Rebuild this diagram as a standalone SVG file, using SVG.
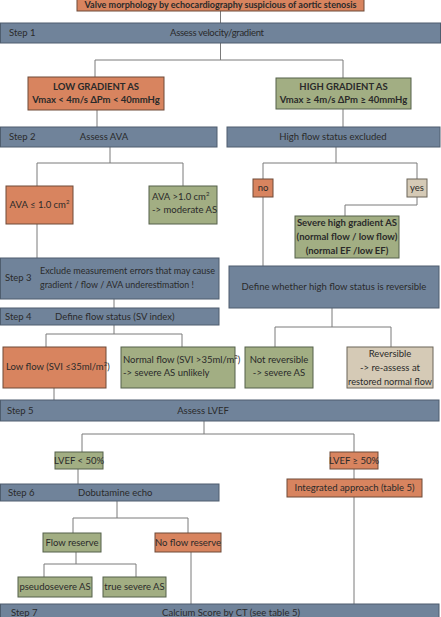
<svg xmlns="http://www.w3.org/2000/svg" width="441" height="617" viewBox="0 0 441 617">
<style>
.bar{fill:#70839A;stroke:#4E5D6E;stroke-width:1}
.or{fill:#D8845F;stroke:#6E4A38;stroke-width:1}
.gr{fill:#A2AE83;stroke:#55604A;stroke-width:1}
.be{fill:#D5CAB6;stroke:#6B6558;stroke-width:1}
text{font-family:Lato,"Liberation Sans",sans-serif;font-size:9.5px;fill:#2A2A2A}
.m{text-anchor:middle}
.b{font-weight:bold}
.conn path{fill:none;stroke:#7A7A7A;stroke-width:1}
.sup{font-size:6px}
</style>
<rect width="441" height="617" fill="#FFFFFF"/>
<g class="conn">
<path d="M220.5 11V23"/>
<path d="M220.5 43V60M95 78V60H343V78"/>
<path d="M97 110V127"/>
<path d="M343 109V127"/>
<path d="M110 147V163M37 186V163H183V186"/>
<path d="M336 147V163M263 179V163H417V179"/>
<path d="M417 197V205H345V216"/>
<path d="M263 197V266"/>
<path d="M37 224V258"/>
<path d="M114 299V308"/>
<path d="M114 325V334M46 347V334H182V347"/>
<path d="M332 308V327M275 347V327H391V347"/>
<path d="M54 388V400"/>
<path d="M204 421V434M82 452V434H354V452"/>
<path d="M78 469V484"/>
<path d="M354 469V479"/>
<path d="M354 497V604"/>
<path d="M117 501V518M73 533V518H188V533"/>
<path d="M76 552V564M44 577V564H136V577"/>
<path d="M191 552V604"/>
</g>
<g id="start"><rect class="or" x="77" y="-5" width="287" height="16"/><text class="m b" x="220.5" y="8" textLength="272" lengthAdjust="spacingAndGlyphs">Valve morphology by echocardiography suspicious of aortic stenosis</text></g>
<g id="step1"><rect class="bar" x="0.5" y="23" width="440" height="20"/><text x="9" y="36">Step 1</text><text class="m" x="217" y="36" textLength="94">Assess velocity/gradient</text></g>
<g id="low"><rect class="or" x="28" y="77" width="136" height="33"/><text class="m b" x="96" y="90">LOW GRADIENT AS</text><text class="m b" x="96" y="103">Vmax &lt; 4m/s  ΔPm &lt; 40mmHg</text></g>
<g id="high"><rect class="gr" x="276" y="78" width="135" height="31"/><text class="m b" x="343.5" y="90">HIGH GRADIENT AS</text><text class="m b" x="343.5" y="103">Vmax ≥ 4m/s  ΔPm ≥ 40mmHg</text></g>
<g id="step2"><rect class="bar" x="0.5" y="127" width="216.5" height="20"/><text x="9" y="140">Step 2</text><text class="m" x="104" y="140">Assess AVA</text></g>
<g id="highflow"><rect class="bar" x="227" y="127" width="213" height="20"/><text class="m" x="333" y="140">High flow status excluded</text></g>
<g id="avasmall"><rect class="or" x="6" y="186" width="67" height="38"/><text class="m" x="39.5" y="208">AVA ≤ 1.0 cm<tspan class="sup" dy="-4">2</tspan></text></g>
<g id="avalarge"><rect class="gr" x="149" y="186" width="68" height="38"/><text x="152" y="200">AVA &gt;1.0 cm<tspan class="sup" dy="-4">2</tspan></text><text x="152" y="213">-&gt; moderate AS</text></g>
<g id="no"><rect class="or" x="253" y="179" width="20" height="18"/><text class="m" x="263" y="191">no</text></g>
<g id="yes"><rect class="be" x="407" y="179" width="20" height="18"/><text class="m" x="417" y="191">yes</text></g>
<g id="severehigh"><rect class="gr" x="295" y="216" width="104" height="42"/><text class="m b" x="347" y="226">Severe high gradient AS</text><text class="m b" x="347" y="240">(normal flow / low flow)</text><text class="m b" x="347" y="254">(normal EF /low EF)</text></g>
<g id="define"><rect class="bar" x="229" y="266" width="210" height="42"/><text class="m" x="334" y="290">Define whether high flow status is reversible</text></g>
<g id="step3"><rect class="bar" x="0.5" y="258" width="218.5" height="41"/><text x="5" y="281">Step 3</text><text x="40" y="274" textLength="175" lengthAdjust="spacingAndGlyphs">Exclude measurement errors that may cause</text><text x="40" y="288" textLength="154" lengthAdjust="spacingAndGlyphs">gradient / flow / AVA underestimation !</text></g>
<g id="step4"><rect class="bar" x="0.5" y="308" width="218.5" height="17"/><text x="5" y="320">Step 4</text><text x="55" y="320">Define flow status (SV index)</text></g>
<g id="lowflow"><rect class="or" x="3" y="347" width="103" height="41"/><text x="6" y="370" font-size="9">Low flow (SVI ≤35ml/m<tspan class="sup" dy="-4">2</tspan><tspan dy="4">)</tspan></text></g>
<g id="normalflow"><rect class="gr" x="121" y="347" width="114" height="41"/><text x="123" y="363" font-size="9">Normal flow (SVI &gt;35ml/m<tspan class="sup" dy="-4">2</tspan><tspan dy="4">)</tspan></text><text x="123" y="376">-&gt; severe AS unlikely</text></g>
<g id="notrev"><rect class="gr" x="245" y="347" width="68" height="41"/><text class="m" x="279" y="363">Not reversible</text><text class="m" x="279" y="376">-&gt; severe AS</text></g>
<g id="rev"><rect class="be" x="347" y="347" width="86" height="41"/><text class="m" x="390" y="357">Reversible</text><text class="m" x="390" y="371">-&gt; re-assess at</text><text class="m" x="390" y="385" textLength="84" lengthAdjust="spacingAndGlyphs">restored normal flow</text></g>
<g id="step5"><rect class="bar" x="0.5" y="400" width="438.5" height="21"/><text x="7" y="414">Step 5</text><text class="m" x="203" y="414">Assess LVEF</text></g>
<g id="lvefless"><rect class="gr" x="55" y="452" width="48" height="17"/><text class="m" x="79" y="464">LVEF &lt; 50%</text></g>
<g id="lvefmore"><rect class="or" x="330" y="452" width="48" height="17"/><text class="m" x="354" y="464">LVEF ≥ 50%</text></g>
<g id="step6"><rect class="bar" x="0.5" y="484" width="218.5" height="17"/><text x="8" y="496">Step 6</text><text x="78" y="496">Dobutamine echo</text></g>
<g id="integrated"><rect class="or" x="287" y="479" width="135" height="18"/><text class="m" x="354.5" y="491">Integrated approach (table 5)</text></g>
<g id="flowres"><rect class="gr" x="43" y="533" width="58" height="19"/><text class="m" x="72" y="546">Flow reserve</text></g>
<g id="noflowres"><rect class="or" x="155" y="533" width="66" height="19"/><text class="m" x="188" y="546">No flow reserve</text></g>
<g id="pseudo"><rect class="gr" x="18" y="577" width="74" height="20"/><text class="m" x="55" y="590">pseudosevere  AS</text></g>
<g id="truesevere"><rect class="gr" x="103" y="577" width="63" height="20"/><text class="m" x="134.5" y="590">true severe AS</text></g>
<g id="step7"><rect class="bar" x="0.5" y="604" width="438.5" height="20"/><text x="11" y="616">Step 7</text><text class="m" x="231" y="616">Calcium Score by CT (see table 5)</text></g>
</svg>
